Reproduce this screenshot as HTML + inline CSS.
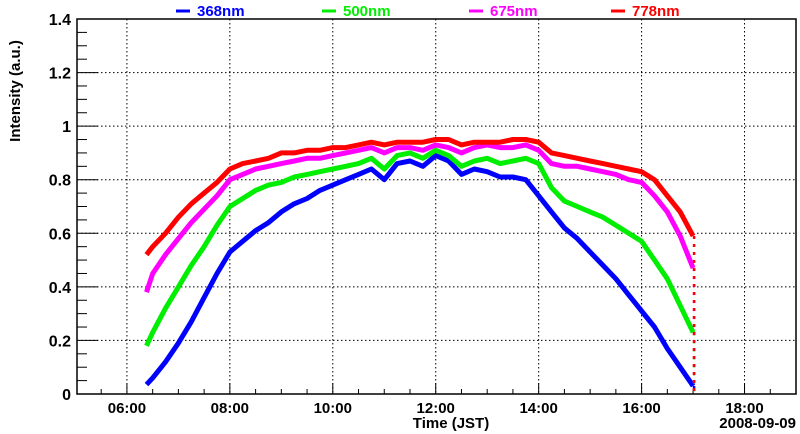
<!DOCTYPE html>
<html><head><meta charset="utf-8"><style>
html,body{margin:0;padding:0;background:#fff;}
svg{display:block;font-family:"Liberation Sans",sans-serif;font-weight:bold;}
</style></head><body>
<svg id="chart" width="800" height="434" viewBox="0 0 800 434"></svg>
<script>
const times=[6.38,6.5,6.75,7,7.25,7.5,7.75,8,8.25,8.5,8.75,9,9.25,9.5,9.75,10,10.25,10.5,10.75,11,11.25,11.5,11.75,12,12.25,12.5,12.75,13,13.25,13.5,13.75,14,14.25,14.5,14.75,15,15.25,15.5,15.75,16,16.25,16.5,16.75,17.0];
const s368=[0.035,0.06,0.12,0.19,0.27,0.36,0.45,0.53,0.57,0.61,0.64,0.68,0.71,0.73,0.76,0.78,0.80,0.82,0.84,0.80,0.86,0.87,0.85,0.89,0.87,0.82,0.84,0.83,0.81,0.81,0.80,0.74,0.68,0.62,0.58,0.53,0.48,0.43,0.37,0.31,0.25,0.17,0.10,0.03];
const s500=[0.18,0.23,0.32,0.40,0.48,0.55,0.63,0.70,0.73,0.76,0.78,0.79,0.81,0.82,0.83,0.84,0.85,0.86,0.88,0.84,0.89,0.90,0.88,0.91,0.89,0.85,0.87,0.88,0.86,0.87,0.88,0.86,0.77,0.72,0.70,0.68,0.66,0.63,0.60,0.57,0.50,0.43,0.33,0.23];
const s675=[0.38,0.45,0.52,0.58,0.64,0.69,0.74,0.80,0.82,0.84,0.85,0.86,0.87,0.88,0.88,0.89,0.90,0.91,0.92,0.90,0.92,0.92,0.91,0.93,0.92,0.90,0.92,0.93,0.92,0.92,0.93,0.91,0.86,0.85,0.85,0.84,0.83,0.82,0.80,0.79,0.74,0.68,0.59,0.47];
const s778=[0.52,0.55,0.60,0.66,0.71,0.75,0.79,0.84,0.86,0.87,0.88,0.90,0.90,0.91,0.91,0.92,0.92,0.93,0.94,0.93,0.94,0.94,0.94,0.95,0.95,0.93,0.94,0.94,0.94,0.95,0.95,0.94,0.90,0.89,0.88,0.87,0.86,0.85,0.84,0.83,0.80,0.74,0.68,0.59];
const yTicks=[0,0.2,0.4,0.6,0.8,1,1.2,1.4];
const yTickLabels=["0","0.2","0.4","0.6","0.8","1","1.2","1.4"];
const xTicks=[6,8,10,12,14,16,18];
const xTickLabels=["06:00","08:00","10:00","12:00","14:00","16:00","18:00"];
const seriesNames=["368nm","500nm","675nm","778nm"];

const L=77,R=796,T=19,B=394,X0=5.03,X1=19.0,Y1=1.4;
const X=t=>L+(t-X0)/(X1-X0)*(R-L);
const Y=v=>B-v/Y1*(B-T);
const svg=document.getElementById('chart');
const NS='http://www.w3.org/2000/svg';
function mk(tag,at,txt){const e=document.createElementNS(NS,tag);for(const k in at)e.setAttribute(k,at[k]);if(txt!==undefined)e.textContent=txt;svg.appendChild(e);return e;}
xTicks.forEach(t=>{const e=mk('line',{x1:X(t),x2:X(t),y1:T,y2:B,stroke:'#000','stroke-width':1,'stroke-dasharray':'1.5,2.5'});

});
yTicks.forEach(v=>{if(v===0||v===1.4)return;const e=mk('line',{x1:L,x2:R,y1:Y(v),y2:Y(v),stroke:'#000','stroke-width':1,'stroke-dasharray':'1.5,2.5'});

});
for(let v=0;v<=1.4001;v+=0.05){const major=Math.abs(v/0.2-Math.round(v/0.2))<1e-6;const e=mk('line',{x1:L,x2:L+(major?21:10),y1:Y(v),y2:Y(v),stroke:'#000','stroke-width':1});

}
for(let t=5.5;t<=19;t+=0.5){const major=Math.abs(t%2)<1e-6;const e=mk('line',{x1:X(t),x2:X(t),y1:B,y2:B-(major?11:5),stroke:'#000','stroke-width':1});

}
yTicks.forEach((v,i)=>{const e=mk('text',{x:71,y:Y(v)+6,'text-anchor':'end','font-size':16},yTickLabels[i]);

});
xTicks.forEach((t,i)=>{const e=mk('text',{x:X(t),y:413,'text-anchor':'middle','font-size':15},xTickLabels[i]);

});
const cols=['#0000ff','#00ee00','#ff00ff','#ff0000'];
[s368,s500,s675,s778].forEach((s,k)=>{
 const d=s.map((v,i)=>(i?'L':'M')+X(times[i]).toFixed(1)+','+Y(v).toFixed(1)).join(' ');
 const e=mk('path',{d:d,fill:'none',stroke:cols[k],'stroke-width':5,'stroke-linejoin':'round'});
 
 
 const last=s[s.length-1];
 const tail=mk('line',{x1:X(17.02),x2:X(17.02),y1:Y(last),y2:Y(0.01),stroke:cols[k],'stroke-width':2.5,'stroke-dasharray':'3,5'});
 
 
});
const fr=mk('rect',{x:L,y:T,width:R-L,height:B-T,fill:'none',stroke:'#000','stroke-width':1.5});


const lx=[176,322,469,611];
seriesNames.forEach((n,k)=>{
 const l=mk('line',{x1:lx[k],x2:lx[k]+14,y1:11,y2:11,stroke:cols[k],'stroke-width':3});
 
 
 const t=mk('text',{x:lx[k]+21,y:16,'font-size':15,fill:cols[k]},n);
 
 
});
const yt=mk('text',{x:0,y:0,'font-size':15,'text-anchor':'middle',transform:'translate(20,91) rotate(-90)'},'Intensity (a.u.)');


const xt=mk('text',{x:451,y:428,'font-size':15,'text-anchor':'middle'},'Time (JST)');


const dt=mk('text',{x:796,y:428,'font-size':15,'text-anchor':'end'},'2008-09-09');


</script>
</body></html>
